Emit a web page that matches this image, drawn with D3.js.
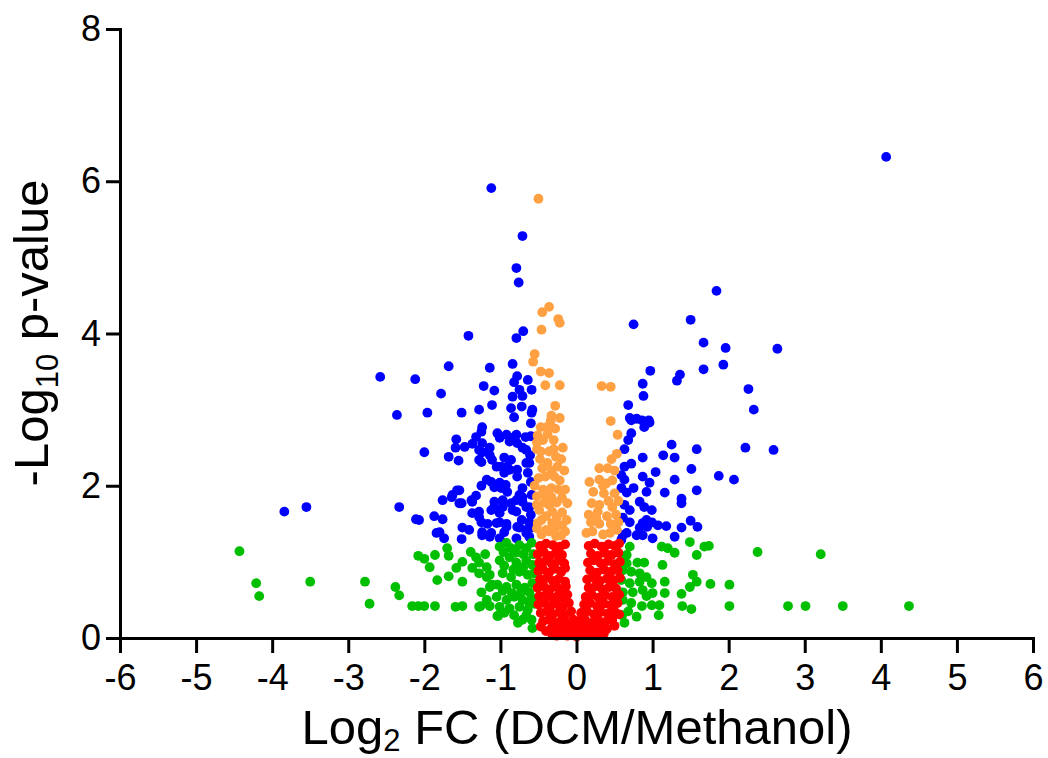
<!DOCTYPE html>
<html>
<head>
<meta charset="utf-8">
<script src="https://cdn.jsdelivr.net/npm/d3@7"></script>
<style>
  body { margin: 0; background: #fff; }
  svg { font-family: "Liberation Sans", Arial, sans-serif; }
</style>
</head>
<body>
<svg width="1048" height="758"></svg>
<script>
// tick values
var xTicks = [-6, -5, -4, -3, -2, -1, 0, 1, 2, 3, 4, 5, 6];
var yTicks = [0, 2, 4, 6, 8];

// blue: |log2FC| large and p significant
var bluePoints = [
  [-1.12,5.91],[-0.71,5.28],[-0.79,4.86],[-0.76,4.67],[-1.42,3.97],[-0.70,4.03],[-0.79,3.94],
  [-2.58,3.43],[-2.12,3.40],[-1.68,3.57],[-1.14,3.55],[-0.84,3.60],
  [-0.78,3.44],[-0.82,3.36],[-0.64,3.39],[-1.22,3.31],[-1.08,3.25],[-1.78,3.21],[-0.59,3.26],
  [-0.75,3.26],[-0.84,3.17],[-0.71,3.18],[-1.11,3.06],[-1.28,3.00],[-0.86,3.02],[-0.72,3.04],[-0.58,3.00],[-0.59,2.96],
  [-2.36,2.93],[-1.96,2.96],[-1.51,2.96],[-0.82,2.90],[-0.60,2.82],
  [-1.24,2.77],[-1.25,2.71],[-1.32,2.64],[-1.04,2.69],[-1.01,2.63],[-0.79,2.67],[-0.67,2.64],[-0.92,2.67],[-0.82,2.64],[-0.60,2.65],
  [-1.58,2.61],[-1.59,2.50],[-1.47,2.51],[-1.37,2.55],[-0.88,2.58],[-0.78,2.56],[-0.71,2.50],[-1.24,2.56],[-1.28,2.47],[-0.66,2.47],
  [-2.00,2.44],[-1.14,2.50],[-1.24,2.44],[-1.14,2.40],[-1.68,2.38],[-1.55,2.33],[-1.25,2.31],[-1.11,2.34],[-1.28,2.34],
  [-0.99,2.25],[-0.91,2.25],[-0.95,2.17],[-0.66,2.30],[-0.64,2.17],[-0.78,2.21],[-1.05,2.25],[-0.95,2.37],[-0.86,2.34],
  [-0.88,2.21],[-0.78,2.12],[-0.62,2.30],[-0.61,2.40],[-0.60,2.05],
  [-1.12,2.05],[-1.08,1.98],[-1.01,2.04],[-1.25,2.00],[-0.93,2.01],[-0.91,1.92],[-0.71,1.97],[-0.75,1.88],[-1.18,2.08],[-0.99,1.97],
  [-1.57,1.94],[-1.63,1.88],[-1.76,1.81],[-1.32,1.87],[-1.37,1.79],[-1.51,1.77],[-1.08,1.79],[-0.97,1.72],[-0.86,1.77],
  [-1.64,1.85],[-1.54,1.94],[-1.54,1.77],[-1.38,1.81],[-0.79,1.81],[-0.71,1.85],[-0.97,1.81],[-0.59,1.88],
  [-0.71,1.79],[-0.62,1.72],[-1.12,1.68],[-1.01,1.64],[-1.37,1.64],[-1.28,1.59],[-0.79,1.66],[-0.66,1.72],[-0.84,1.68],[-1.08,1.72],[-1.28,1.66],
  [-2.07,1.55],[-1.87,1.60],[-1.76,1.56],[-1.25,1.52],[-1.17,1.50],[-1.01,1.52],[-0.92,1.50],[-0.72,1.55],[-0.62,1.52],[-0.60,1.62],
  [-1.50,1.45],[-1.41,1.42],[-1.84,1.38],[-1.74,1.31],[-1.24,1.39],[-1.12,1.38],[-0.95,1.39],[-0.75,1.45],[-0.66,1.38],
  [-1.05,1.51],[-0.92,1.46],[-1.14,1.33],[-1.24,1.35],[-0.78,1.46],[-0.66,1.42],[-0.62,1.33],[-0.59,1.45],
  [-1.51,1.30],[-1.01,1.31],[-0.79,1.31],[-1.80,1.39],
  [-3.84,1.66],[-3.55,1.72],[-2.33,1.72],[-2.11,1.56],
  [4.07,6.32],[1.84,4.56],[0.75,4.12],[1.50,4.18],[1.67,3.88],[1.96,3.81],[2.64,3.80],[1.67,3.53],[1.93,3.59],
  [0.97,3.51],[1.32,3.38],[1.36,3.46],[0.87,3.34],[0.88,3.18],[2.26,3.27],[2.33,3.00],[0.68,3.06],
  [0.70,2.89],[0.79,2.88],[0.95,2.86],[0.72,2.86],[0.86,2.86],[0.96,2.83],[0.89,2.77],
  [0.72,2.69],[0.68,2.60],[0.63,2.48],[1.25,2.54],[1.58,2.48],[2.22,2.50],[2.59,2.47],
  [1.14,2.40],[1.29,2.37],[0.87,2.37],[0.63,2.25],[0.72,2.29],[0.59,2.14],[0.63,2.08],[1.04,2.18],[1.51,2.22],
  [0.87,2.12],[0.96,2.04],[1.29,2.08],[1.87,2.13],[2.07,2.08],[0.75,1.97],[0.92,1.92],[1.16,1.91],[1.58,1.94],
  [0.59,1.97],[0.66,1.91],[1.38,1.83],[1.38,1.77],[0.83,1.79],[0.89,1.72],[0.99,1.68],[0.63,1.75],[0.70,1.68],
  [0.61,1.58],[0.70,1.52],[0.87,1.51],[0.93,1.46],[1.07,1.48],[1.18,1.47],[1.50,1.54],[1.59,1.46],[1.38,1.45],[1.29,1.33],
  [1.00,1.31],[0.66,1.38],[0.79,1.35],[0.92,1.55],[0.99,1.52],[0.83,1.45],[0.87,1.35],[0.61,1.35],[0.59,1.29]
];

// orange: significant p, small fold change
var orangePoints = [
  [-0.50,5.77],[-0.45,4.28],[-0.36,4.35],[-0.24,4.19],[-0.22,4.14],[-0.46,4.05],[-0.55,3.73],[-0.57,3.63],
  [-0.47,3.50],[-0.36,3.48],[-0.41,3.32],[-0.22,3.32],[0.33,3.31],[0.45,3.30],[-0.28,3.05],[-0.33,2.92],
  [-0.22,2.89],[0.45,2.85],[0.54,2.67],
  [-0.47,2.77],[-0.39,2.77],[-0.51,2.66],[-0.38,2.68],[-0.52,2.57],[-0.18,2.50],[-0.52,2.48],[-0.27,2.38],
  [-0.20,2.35],[-0.45,2.23],[-0.33,2.20],[-0.22,2.07],[-0.55,2.00],[-0.33,1.97],[-0.52,1.86],[-0.33,1.85],
  [-0.19,1.84],[-0.12,1.77],[-0.49,1.68],[-0.32,1.66],[-0.19,1.65],[-0.51,1.51],[-0.32,1.51],[-0.19,1.48],
  [-0.46,1.36],[-0.27,1.34],[-0.40,1.42],[-0.26,1.58],[-0.42,1.78],[-0.44,1.95],[-0.24,1.95],[-0.41,2.12],
  [-0.48,2.35],[-0.36,2.45],[-0.30,2.60],[-0.28,2.75],[-0.40,1.60],[-0.15,1.40],
  [-0.50,2.10],[-0.38,2.30],[-0.30,2.48],[-0.47,2.45],[-0.29,2.12],[-0.16,2.20],[-0.36,1.75],[-0.26,1.78],
  [-0.46,1.55],[-0.13,1.55],[-0.36,1.40],[-0.52,1.44],[-0.20,1.35],[-0.52,1.75],[-0.27,1.46],[-0.41,1.88],
  [-0.15,1.95],[-0.25,2.25],[-0.44,2.60],[-0.34,2.85],
  [0.46,2.35],[0.53,2.42],[0.30,2.23],[0.41,2.23],[0.17,2.05],[0.30,2.08],[0.47,2.07],[0.39,2.03],
  [0.20,1.77],[0.30,1.75],[0.47,1.72],[0.28,1.66],[0.40,1.60],[0.52,1.62],[0.13,1.38],[0.21,1.40],
  [0.35,1.36],[0.44,1.38],[0.53,1.42],[0.19,1.52],[0.30,1.50],[0.45,1.50],[0.36,1.90],[0.50,1.90],
  [0.22,1.92],[0.42,1.80],[0.26,1.58],[0.55,1.80],[0.50,2.20],[0.35,2.00],[0.16,1.62],[0.55,1.52]
];

// green: large fold change, not significant
var greenPoints = [
  [-4.43,1.14],[-4.21,0.72],[-4.17,0.55],[-3.50,0.74],[-2.78,0.74],[-2.72,0.45],[-2.38,0.67],[-2.33,0.56],
  [-2.16,0.42],[-2.08,0.42],[-2.00,0.42],[-1.86,0.42],[-1.59,0.41],[-1.50,0.42],[-1.26,0.42],[-1.03,0.29],
  [-2.08,1.08],[-2.00,1.04],[-1.93,0.93],[-1.86,1.09],[-1.70,1.18],[-1.68,1.08],[-1.83,0.76],[-1.68,0.81],
  [-1.58,0.92],[-1.50,1.00],[-1.50,0.74],[-1.39,1.13],[-1.32,1.06],[-1.37,0.92],[-1.28,0.85],[-1.18,0.80],[-1.14,0.67],
  [-1.28,0.99],[-1.18,0.93],[-1.14,0.83],[-1.11,0.70],
  [-1.01,1.20],[-0.92,1.25],[-0.86,1.18],[-0.75,1.22],[-0.66,1.18],[-0.59,1.25],
  [-1.01,1.02],[-0.88,1.06],[-0.79,0.99],[-0.66,1.02],[-0.58,0.96],
  [-0.97,0.85],[-0.86,0.80],[-0.75,0.87],[-0.64,0.83],
  [-1.04,0.70],[-0.92,0.67],[-0.79,0.70],[-0.68,0.66],[-0.58,0.72],
  [-1.05,0.54],[-0.92,0.50],[-0.82,0.54],[-0.71,0.50],[-0.59,0.53],
  [-1.01,0.41],[-0.88,0.39],[-0.75,0.41],[-0.64,0.37],
  [-0.71,0.24],[-0.59,0.24],[-0.58,0.13],[-1.28,0.41],[-1.14,0.42],[-1.04,0.29],
  [-1.20,1.10],[-1.25,0.60],[-0.95,0.95],[-0.83,0.90],[-0.70,0.93],[-0.62,0.60],[-0.55,0.45],[-0.56,0.85],
  [-0.96,1.13],[-0.80,1.12],[-0.70,1.10],[-0.62,0.45],[-0.57,1.10],[-0.85,0.59],[-0.97,0.62],[-0.73,0.60],
  [-0.66,0.30],[-0.95,0.33],[-0.82,0.30],[-1.18,0.50],[-0.77,0.20],
  [0.70,1.20],[0.66,1.09],[1.12,1.20],[1.20,1.18],[1.29,1.12],[1.49,1.26],[1.68,1.20],[1.74,1.21],[1.58,1.09],
  [1.13,0.96],[0.80,0.99],[0.89,0.99],[0.61,0.89],[0.72,0.87],[0.83,0.85],[0.92,0.80],[0.59,0.76],[0.70,0.72],
  [0.83,0.74],[0.99,0.72],[1.16,0.74],[1.53,0.83],[1.58,0.74],[1.49,0.67],[0.61,0.60],[0.74,0.60],
  [0.87,0.63],[1.00,0.59],[1.16,0.59],[1.38,0.58],[0.61,0.50],[0.72,0.46],[0.86,0.42],[0.99,0.43],[1.09,0.43],
  [1.39,0.42],[1.51,0.38],[0.79,0.28],[1.08,0.30],
  [2.38,1.13],[3.21,1.10],[1.76,0.71],[2.01,0.70],[2.01,0.42],[2.78,0.42],[3.01,0.42],[3.50,0.42],[4.37,0.42],
  [0.62,1.05],[0.60,0.30],[0.63,0.20],[0.68,0.35],[0.92,0.55],[0.60,0.98],[0.66,0.98]
];

// red: neither
var redPoints = [
  [-0.48,1.21],[-0.40,1.24],[-0.31,1.22],[-0.22,1.20],[-0.15,1.23],
  [-0.51,1.10],[-0.43,1.13],[-0.35,1.08],[-0.27,1.12],[-0.19,1.09],
  [-0.49,0.99],[-0.41,1.01],[-0.32,0.97],[-0.24,1.02],[-0.16,0.98],
  [-0.50,0.88],[-0.44,0.90],[-0.36,0.86],[-0.28,0.91],[-0.20,0.87],[-0.15,0.92],
  [-0.48,0.77],[-0.39,0.79],[-0.31,0.75],[-0.23,0.78],[-0.15,0.74],
  [-0.51,0.66],[-0.43,0.68],[-0.35,0.64],[-0.26,0.67],[-0.18,0.63],[-0.14,0.68],
  [-0.49,0.55],[-0.40,0.57],[-0.32,0.53],[-0.24,0.56],[-0.16,0.52],[-0.12,0.57],
  [-0.50,0.44],[-0.42,0.46],[-0.34,0.42],[-0.26,0.45],[-0.18,0.41],[-0.10,0.46],
  [-0.47,0.33],[-0.39,0.35],[-0.31,0.31],[-0.23,0.34],[-0.15,0.30],[-0.07,0.35],
  [-0.44,0.22],[-0.36,0.24],[-0.28,0.20],[-0.20,0.23],[-0.12,0.19],[-0.04,0.24],
  [-0.47,0.15],[-0.40,0.09],[-0.33,0.13],[-0.25,0.11],[-0.17,0.14],[-0.09,0.10],[-0.03,0.13],
  [-0.32,0.05],[-0.26,0.03],[-0.20,0.05],[-0.12,0.03],[-0.05,0.06],[0.00,0.02],
  [0.16,1.21],[0.24,1.24],[0.33,1.20],[0.42,1.23],[0.50,1.21],[0.56,1.24],
  [0.19,1.11],[0.28,1.08],[0.37,1.12],[0.46,1.09],[0.55,1.12],
  [0.15,0.99],[0.23,1.02],[0.32,0.98],[0.41,1.01],[0.50,0.97],[0.57,1.00],
  [0.18,0.89],[0.27,0.86],[0.36,0.90],[0.45,0.87],[0.54,0.89],
  [0.14,0.77],[0.22,0.79],[0.31,0.75],[0.40,0.78],[0.49,0.76],[0.57,0.79],
  [0.16,0.66],[0.25,0.68],[0.34,0.64],[0.43,0.67],[0.52,0.65],
  [0.12,0.54],[0.20,0.57],[0.29,0.53],[0.38,0.56],[0.47,0.54],[0.56,0.57],
  [0.10,0.44],[0.18,0.46],[0.27,0.42],[0.36,0.45],[0.45,0.43],[0.54,0.46],
  [0.06,0.33],[0.14,0.35],[0.23,0.31],[0.32,0.34],[0.41,0.32],[0.50,0.35],[0.56,0.31],
  [0.03,0.22],[0.11,0.24],[0.20,0.20],[0.29,0.23],[0.38,0.21],[0.47,0.24],
  [0.04,0.12],[0.12,0.14],[0.21,0.11],[0.30,0.13],[0.40,0.12],[0.50,0.16],
  [0.02,0.03],[0.09,0.05],[0.17,0.04],[0.26,0.04],[0.36,0.06]
];

var svg = d3.select("svg");

var x = d3.scaleLinear().domain([-6, 6]).range([120, 1033]);
var y = d3.scaleLinear().domain([0, 8]).range([638, 29]);

// points, drawn group by group
var groups = [
  { pts: bluePoints, color: "#0000ff" },
  { pts: greenPoints, color: "#00bf00" },
  { pts: orangePoints, color: "#ffa042" },
  { pts: redPoints, color: "#ff0000" }
];
groups.forEach(function(g) {
  svg.append("g")
    .selectAll("circle")
    .data(g.pts)
    .enter()
    .append("circle")
    .attr("cx", function(d) { return x(d[0]); })
    .attr("cy", function(d) { return y(d[1]); })
    .attr("r", 4.9)
    .attr("fill", g.color);
});

// axes
var xAxis = svg.append("g")
  .attr("transform", "translate(0,638)")
  .call(d3.axisBottom(x).tickValues(xTicks).tickSize(15).tickSizeOuter(0).tickPadding(11)
    .tickFormat(function(d) { return String(d); }));
var yAxis = svg.append("g")
  .attr("transform", "translate(120,0)")
  .call(d3.axisLeft(y).tickValues(yTicks).tickSize(14).tickSizeOuter(0).tickPadding(5)
    .tickFormat(function(d) { return String(d); }));

[xAxis, yAxis].forEach(function(a) {
  a.attr("font-family", null).attr("font-size", null);
  a.select(".domain").attr("stroke", "#000").attr("stroke-width", 3).attr("stroke-linecap", "square");
  a.selectAll(".tick line").attr("stroke", "#000").attr("stroke-width", 3);
  a.selectAll(".tick text").attr("fill", "#000").style("font-size", "36px");
});

// axis titles
var xt = svg.append("text")
  .attr("x", 577).attr("y", 744)
  .attr("text-anchor", "middle")
  .style("font-size", "49px");
xt.append("tspan").text("Log");
xt.append("tspan").attr("dy", 7).style("font-size", "31px").text("2");
xt.append("tspan").attr("dy", -7).text(" FC (DCM/Methanol)");

var yt = svg.append("text")
  .attr("transform", "translate(48,333) rotate(-90)")
  .attr("text-anchor", "middle")
  .style("font-size", "49px");
yt.append("tspan").text("-Log");
yt.append("tspan").attr("dy", 10).style("font-size", "31px").text("10");
yt.append("tspan").attr("dy", -10).text(" p-value");
</script>
</body>
</html>
